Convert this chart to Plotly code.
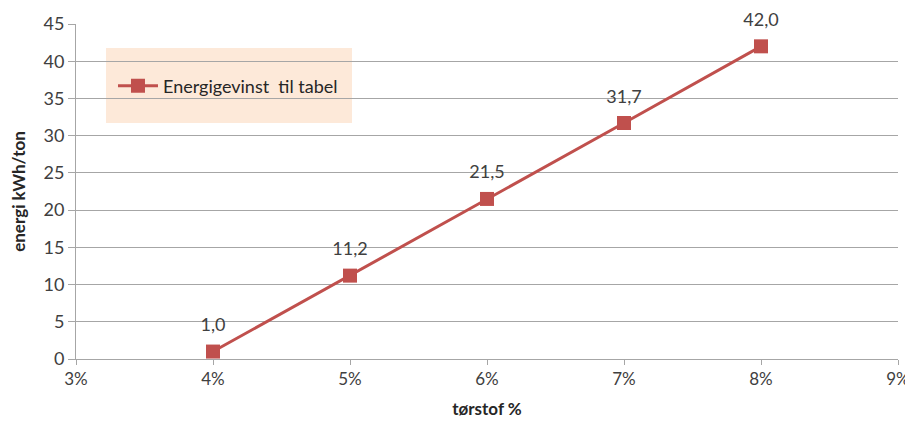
import plotly.graph_objects as go

torstof = [0.04, 0.05, 0.06, 0.07, 0.08]
energi = [1.0, 11.2, 21.5, 31.7, 42.0]
series_name = "Energigevinst  til tabel"

FONT = "Lato"

fig = go.Figure()
fig.add_trace(go.Scatter(
    x=torstof, y=energi, name=series_name,
    mode="lines+markers",
    line=dict(color="#c0504d", width=3),
    marker=dict(symbol="square", size=14, color="#c0504d"),
    showlegend=True,
))
# data labels (placed slightly higher above the markers, as in the reference)
fig.add_trace(go.Scatter(
    x=torstof, y=energi, mode="markers+text",
    marker=dict(size=24, color="rgba(0,0,0,0)"),
    text=[f"{v:.1f}".replace(".", ",") for v in energi],
    textposition="top center",
    textfont=dict(size=18, color="#404040", family=FONT),
    showlegend=False, hoverinfo="skip",
    cliponaxis=False,
))

# legend background box (reference px: x 106-352, y 48-123; plot x 76-898, y 24-359)
fig.add_shape(type="rect", xref="paper", yref="paper",
              x0=(106 - 76) / 822, x1=(352 - 76) / 822,
              y0=(359 - 123) / 335, y1=(359 - 48) / 335,
              fillcolor="#fde9d9", line=dict(width=0), layer="below")

fig.update_layout(
    width=905, height=421,
    margin=dict(l=68, r=15, t=16, b=70, autoexpand=False),
    paper_bgcolor="white", plot_bgcolor="white",
    font=dict(family=FONT, size=18, color="#404040"),
    separators=",.",
    showlegend=True,
    legend=dict(x=0.045, y=0.815, xanchor="left", yanchor="middle",
                bgcolor="rgba(0,0,0,0)", font=dict(size=18, color="#262626"),
                itemwidth=40),
    xaxis=dict(range=[0.03, 0.09], dtick=0.01, tick0=0.03, tickformat=".0%",
               showgrid=False, showline=True, linecolor="#a6a6a6", linewidth=1,
               ticks="outside", ticklen=5, tickcolor="#a6a6a6", automargin=False,
               tickfont=dict(size=17),
               title=dict(text="<b>tørstof %</b>", font=dict(size=17, color="#262626"), standoff=14),
               zeroline=False),
    yaxis=dict(range=[0, 45], dtick=5, showgrid=True, gridcolor="#a6a6a6", gridwidth=1,
               showline=True, linecolor="#a6a6a6", ticks="outside", ticklen=7,
               tickcolor="#a6a6a6", zeroline=False, automargin=False,
               title=dict(text="<b>energi kWh/ton</b>", font=dict(size=17, color="#262626"), standoff=14)),
)

fig.write_html("out.html")
